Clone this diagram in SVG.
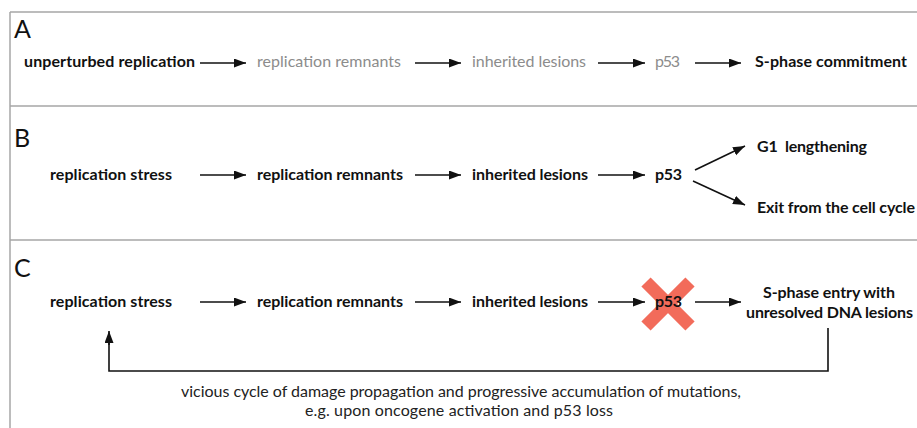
<svg xmlns="http://www.w3.org/2000/svg" width="917" height="428" viewBox="0 0 917 428">
<style>
.frame{stroke:#a6a6a6;stroke-width:1.5;fill:none}
.lbl{font-family:Lato,"Liberation Sans",sans-serif;font-size:16px;font-weight:bold;fill:#111}
.gray{font-weight:normal;fill:#8c8c8c}
.panel{font-family:Lato,"Liberation Sans",sans-serif;font-size:25px;fill:#111}
.cap{font-family:Lato,"Liberation Sans",sans-serif;font-size:16px;fill:#222}
.arr{stroke:#111;stroke-width:1.6;fill:none;marker-end:url(#ah)}
.fb{stroke:#111;stroke-width:1.6;fill:none}
.x{stroke:#f26b5a;stroke-width:13;stroke-linecap:butt}
</style>
<defs>
<marker id="ah" markerUnits="userSpaceOnUse" markerWidth="13" markerHeight="10" refX="12" refY="4.5" orient="auto">
<path d="M0,0 L12,4.5 L0,9 z" fill="#111"/>
</marker>
</defs>
<rect width="917" height="428" fill="#fff"/>
<g id="frame">
<line class="frame" x1="10" y1="12" x2="917" y2="12"/>
<line class="frame" x1="10" y1="106" x2="917" y2="106"/>
<line class="frame" x1="10" y1="240" x2="917" y2="240"/>
<line class="frame" x1="10" y1="12" x2="10" y2="428"/>
<text class="panel" x="14" y="38">A</text>
<text class="panel" x="14" y="147">B</text>
<text class="panel" x="14" y="277">C</text>
</g>
<g id="panelA">
<g id="a1"><text class="lbl" x="24" y="67" textLength="171">unperturbed replication</text></g>
<g id="a2"><text class="lbl gray" x="257" y="67" textLength="144">replication remnants</text></g>
<g id="a3"><text class="lbl gray" x="472" y="67" textLength="114">inherited lesions</text></g>
<g id="a4"><text class="lbl gray" x="655" y="67" textLength="25">p53</text></g>
<g id="a5"><text class="lbl" x="755" y="67" textLength="152">S-phase commitment</text></g>
</g>
<g id="panelB">
<g id="b1"><text class="lbl" x="50" y="180" textLength="122">replication stress</text></g>
<g id="b2"><text class="lbl" x="257" y="180" textLength="146">replication remnants</text></g>
<g id="b3"><text class="lbl" x="472" y="180" textLength="116">inherited lesions</text></g>
<g id="b4"><text class="lbl" x="655" y="180" textLength="27">p53</text></g>
<g id="b5"><text class="lbl" x="757" y="152" textLength="110" xml:space="preserve">G1  lengthening</text></g>
<g id="b6"><text class="lbl" x="757" y="213" textLength="158">Exit from the cell cycle</text></g>
</g>
<g id="panelC">
<g id="c1"><text class="lbl" x="50" y="307" textLength="122">replication stress</text></g>
<g id="c2"><text class="lbl" x="257" y="307" textLength="146">replication remnants</text></g>
<g id="c3"><text class="lbl" x="472" y="307" textLength="116">inherited lesions</text></g>
<g id="c4">
<line class="x" x1="646" y1="282" x2="690" y2="326"/>
<line class="x" x1="690" y1="282" x2="646" y2="326"/>
<text class="lbl" x="655" y="307" textLength="27">p53</text>
</g>
<g id="c5">
<text class="lbl" x="763" y="298" textLength="132">S-phase entry with</text>
<text class="lbl" x="746" y="318" textLength="167">unresolved DNA lesions</text>
</g>
<g id="c6">
<text class="cap" x="181" y="397" textLength="560">vicious cycle of damage propagation and progressive accumulation of mutations,</text>
<text class="cap" x="305" y="416" textLength="308">e.g. upon oncogene activation and p53 loss</text>
</g>
</g>
<g id="connectors">
<line class="arr" x1="200" y1="63" x2="246" y2="63"/>
<line class="arr" x1="415" y1="63" x2="461" y2="63"/>
<line class="arr" x1="598" y1="63" x2="645" y2="63"/>
<line class="arr" x1="695" y1="63" x2="741" y2="63"/>
<line class="arr" x1="200" y1="175" x2="246" y2="175"/>
<line class="arr" x1="415" y1="175" x2="461" y2="175"/>
<line class="arr" x1="598" y1="175" x2="645" y2="175"/>
<line class="arr" x1="695" y1="170" x2="745" y2="146"/>
<line class="arr" x1="693" y1="181" x2="745" y2="205"/>
<line class="arr" x1="200" y1="302" x2="246" y2="302"/>
<line class="arr" x1="415" y1="302" x2="461" y2="302"/>
<line class="arr" x1="598" y1="302" x2="645" y2="302"/>
<line class="arr" x1="695" y1="302" x2="741" y2="302"/>
<polyline class="fb" points="828,328 828,371 109,371 109,342"/>
<line class="arr" x1="109" y1="345" x2="109" y2="331"/>
</g>
</svg>
